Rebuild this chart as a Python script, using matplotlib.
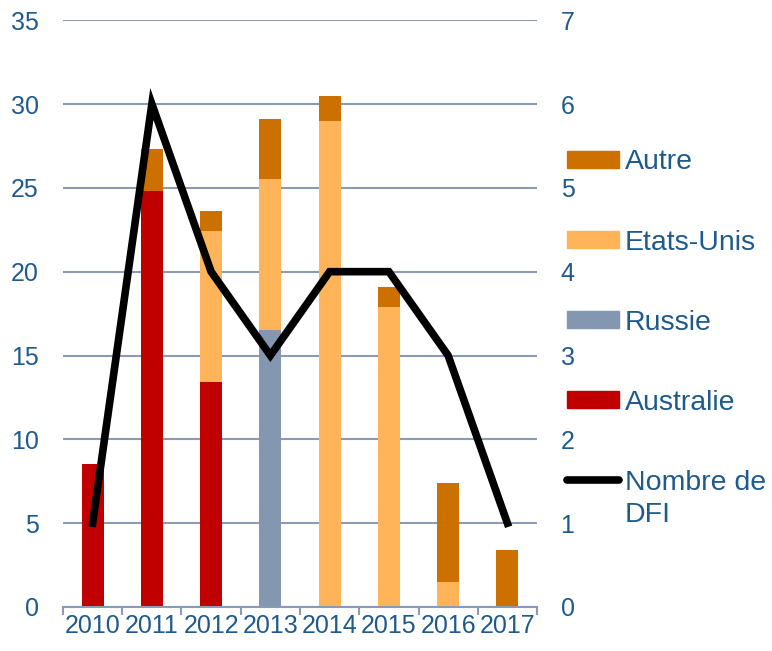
import numpy as np
import matplotlib.pyplot as plt
from matplotlib.patches import Patch
from matplotlib.lines import Line2D

plt.rcParams['font.family'] = ['Liberation Sans', 'DejaVu Sans']

# data
years = ['2010', '2011', '2012', '2013', '2014', '2015', '2016', '2017']
australie = [8.5, 24.8, 13.4, 0, 0, 0, 0, 0]
russie = [0, 0, 0, 16.5, 0, 0, 0, 0]
etats_unis = [0, 0, 9.0, 9.0, 29.0, 17.9, 1.5, 0]
autre = [0, 2.5, 1.2, 3.6, 1.5, 1.2, 5.9, 3.4]
nb_dfi = [1, 6, 4, 3, 4, 4, 3, 1]

c_aus = '#C00000'
c_rus = '#8497B0'
c_us = '#FFB45A'
c_aut = '#CC7000'
c_txt = '#1F5A8C'
c_grid = '#8C9BB5'
fs = 18
lfs = 20.5

fig = plt.figure(figsize=(7.72, 6.51), dpi=100)
ax = fig.add_axes([0.0816, 0.0676, 0.614, 0.9014])

x = np.arange(len(years))
w = 0.37
b = np.zeros(len(years))
for vals, col in [(australie, c_aus), (russie, c_rus), (etats_unis, c_us), (autre, c_aut)]:
    ax.bar(x, vals, w, bottom=b, color=col, zorder=2)
    b = b + np.array(vals)

ax.set_xlim(-0.5, len(years) - 0.5)
ax.set_ylim(0, 35)
ax.set_yticks(range(0, 36, 5))
ax.grid(axis='y', color=c_grid, linewidth=1.5, zorder=0)
ax.set_axisbelow(True)
for s in ['top', 'left', 'right']:
    ax.spines[s].set_visible(False)
ax.spines['bottom'].set_color(c_grid)
ax.spines['bottom'].set_linewidth(1.5)
ax.spines['bottom'].set_zorder(3)

ax.set_xticks(np.arange(-0.5, len(years)), labels=[])
ax.set_xticks(x, labels=years, minor=True)
ax.tick_params(axis='x', which='major', length=6, width=1.5, color=c_grid)
ax.tick_params(axis='x', which='minor', length=0, pad=5, labelsize=fs, labelcolor=c_txt)
ax.tick_params(axis='y', length=0, pad=17.5, labelsize=fs, labelcolor=c_txt)

ax2 = ax.twinx()
ax2.plot(x, nb_dfi, color='black', linewidth=5.5, solid_joinstyle='miter', zorder=4)
ax2.set_ylim(0, 7)
ax2.set_yticks(range(0, 8))
for s in ax2.spines.values():
    s.set_visible(False)
ax2.tick_params(axis='y', length=0, pad=17, labelsize=fs, labelcolor=c_txt)

handles = [Patch(color=c_aut), Patch(color=c_us), Patch(color=c_rus), Patch(color=c_aus),
           Line2D([], [], color='black', linewidth=5.5, solid_capstyle='round')]
labels = ['Autre', 'Etats-Unis', 'Russie', 'Australie', 'Nombre de']
leg = fig.legend(handles, labels, loc='upper left', bbox_to_anchor=(0.734, 0.7705),
                 frameon=False, fontsize=lfs, labelcolor=c_txt,
                 handlelength=1.85, handleheight=0.55, handletextpad=0.2,
                 labelspacing=1.9, borderaxespad=0, borderpad=0)

# second line of the last legend label
fig.canvas.draw()
bb = leg.get_texts()[-1].get_window_extent().transformed(fig.transFigure.inverted())
fig.text(bb.x0, bb.y0 - 0.01, 'DFI', fontsize=lfs, color=c_txt, va='top', ha='left')

fig.savefig('out.png', dpi=100)
